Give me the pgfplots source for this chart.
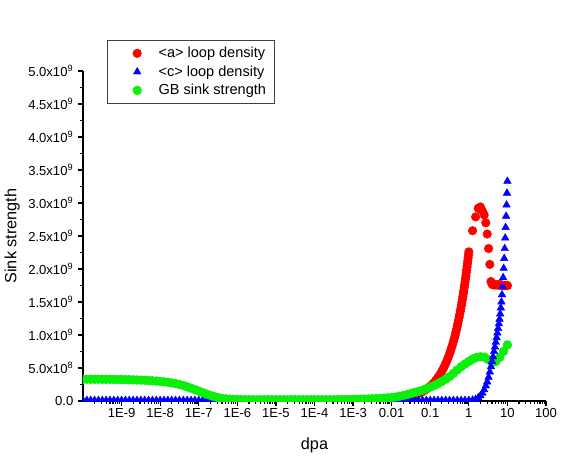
\documentclass[border=0pt]{standalone}
\usepackage{fontspec}
\setmainfont{Liberation Sans}
\usepackage{pgfplots}
\pgfplotsset{compat=1.18}
\usepackage{pgfplotstable}

\pgfplotstableread{
x y
0.01 0.023
0.02 0.045
0.03 0.068
0.04 0.090
0.05 0.113
0.06 0.136
0.07 0.158
0.08 0.181
0.09 0.203
0.10 0.226
0.12 0.271
0.14 0.316
0.16 0.362
0.18 0.407
0.20 0.452
0.22 0.497
0.24 0.542
0.26 0.588
0.28 0.633
0.30 0.678
0.32 0.723
0.34 0.768
0.36 0.814
0.38 0.859
0.40 0.904
0.42 0.949
0.44 0.994
0.46 1.040
0.48 1.085
0.50 1.130
0.52 1.175
0.54 1.220
0.56 1.266
0.58 1.311
0.60 1.356
0.62 1.401
0.64 1.446
0.66 1.492
0.68 1.537
0.70 1.582
0.72 1.627
0.74 1.672
0.76 1.718
0.78 1.763
0.80 1.808
0.82 1.853
0.84 1.898
0.86 1.944
0.88 1.989
0.90 2.034
0.92 2.079
0.94 2.124
0.96 2.170
0.98 2.215
1.00 2.260
1.25 2.58
1.50 2.79
1.75 2.92
2.00 2.94
2.25 2.88
2.50 2.82
2.75 2.70
3.00 2.53
3.25 2.31
3.50 2.07
3.75 1.81
4.00 1.77
4.25 1.76
4.50 1.76
4.75 1.76
5.00 1.76
5.25 1.76
5.50 1.76
5.75 1.76
6.00 1.76
6.25 1.76
6.50 1.76
6.75 1.76
7.00 1.76
7.25 1.75
7.50 1.75
7.75 1.75
8.00 1.75
8.25 1.75
8.50 1.75
8.75 1.75
9.00 1.75
9.25 1.75
9.50 1.75
9.75 1.75
10.0 1.75
}\redtab

\pgfplotstableread{
x y
1e-10 0.01
1.259e-10 0.01
1.585e-10 0.01
1.995e-10 0.01
2.512e-10 0.01
3.162e-10 0.01
3.981e-10 0.01
5.012e-10 0.01
6.310e-10 0.01
7.943e-10 0.01
1e-9 0.01
1.259e-9 0.01
1.585e-9 0.01
1.995e-9 0.01
2.512e-9 0.01
3.162e-9 0.01
3.981e-9 0.01
5.012e-9 0.01
6.310e-9 0.01
7.943e-9 0.01
1e-8 0.01
1.259e-8 0.01
1.585e-8 0.01
1.995e-8 0.01
2.512e-8 0.01
3.162e-8 0.01
3.981e-8 0.01
5.012e-8 0.01
6.310e-8 0.01
7.943e-8 0.01
1e-7 0.01
1.259e-7 0.01
1.585e-7 0.01
1.995e-7 0.01
2.512e-7 0.01
3.162e-7 0.01
3.981e-7 0.01
5.012e-7 0.01
6.310e-7 0.01
7.943e-7 0.01
1e-6 0.01
1.259e-6 0.01
1.585e-6 0.01
1.995e-6 0.01
2.512e-6 0.01
3.162e-6 0.01
3.981e-6 0.01
5.012e-6 0.01
6.310e-6 0.01
7.943e-6 0.01
1e-5 0.01
1.259e-5 0.01
1.585e-5 0.01
1.995e-5 0.01
2.512e-5 0.01
3.162e-5 0.01
3.981e-5 0.01
5.012e-5 0.01
6.310e-5 0.01
7.943e-5 0.01
1e-4 0.01
1.259e-4 0.01
1.585e-4 0.01
1.995e-4 0.01
2.512e-4 0.01
3.162e-4 0.01
3.981e-4 0.01
5.012e-4 0.01
6.310e-4 0.01
7.943e-4 0.01
1e-3 0.01
1.259e-3 0.01
1.585e-3 0.01
1.995e-3 0.01
2.512e-3 0.01
3.162e-3 0.01
3.981e-3 0.01
5.012e-3 0.01
6.310e-3 0.01
7.943e-3 0.01
1e-2 0.01
1.259e-2 0.01
1.585e-2 0.01
1.995e-2 0.01
2.512e-2 0.01
3.162e-2 0.01
3.981e-2 0.01
5.012e-2 0.01
6.310e-2 0.01
7.943e-2 0.01
0.1 0.01
0.1259 0.01
0.1585 0.01
0.1995 0.01
0.2512 0.01
0.3162 0.01
0.3981 0.01
0.5012 0.01
0.6310 0.01
0.7943 0.01
1.00 0.010
1.25 0.015
1.50 0.025
}\bluelowtab

\pgfplotstableread{
x y
1.75 0.050
2.00 0.080
2.25 0.120
2.50 0.170
2.75 0.230
3.00 0.290
3.25 0.360
3.50 0.440
3.75 0.520
4.00 0.600
4.25 0.670
4.50 0.750
4.75 0.820
5.00 0.890
5.25 0.960
5.50 1.030
5.75 1.100
6.00 1.170
6.25 1.240
6.50 1.320
6.75 1.410
7.00 1.500
7.25 1.610
7.50 1.730
7.75 1.870
8.00 2.010
8.25 2.160
8.50 2.310
8.75 2.470
9.00 2.630
9.25 2.800
9.50 2.970
9.75 3.150
10.0 3.330
}\bluehightab

\pgfplotstableread{
x y
1e-10 0.330
1.259e-10 0.330
1.585e-10 0.330
1.995e-10 0.330
2.512e-10 0.329
3.162e-10 0.329
3.981e-10 0.328
5.012e-10 0.328
6.310e-10 0.327
7.943e-10 0.326
1e-9 0.325
1.259e-9 0.324
1.585e-9 0.323
1.995e-9 0.321
2.512e-9 0.319
3.162e-9 0.317
3.981e-9 0.314
5.012e-9 0.311
6.310e-9 0.307
7.943e-9 0.302
1e-8 0.297
1.259e-8 0.291
1.585e-8 0.283
1.995e-8 0.274
2.512e-8 0.263
3.162e-8 0.250
3.981e-8 0.235
5.012e-8 0.215
6.310e-8 0.195
7.943e-8 0.173
1e-7 0.150
1.259e-7 0.127
1.585e-7 0.105
1.995e-7 0.085
2.512e-7 0.067
3.162e-7 0.052
3.981e-7 0.040
5.012e-7 0.032
6.310e-7 0.027
7.943e-7 0.024
1e-6 0.022
1.259e-6 0.021
1.585e-6 0.020
1.995e-6 0.020
2.512e-6 0.020
3.162e-6 0.020
3.981e-6 0.020
5.012e-6 0.020
6.310e-6 0.020
7.943e-6 0.020
1e-5 0.020
1.259e-5 0.020
1.585e-5 0.020
1.995e-5 0.020
2.512e-5 0.020
3.162e-5 0.020
3.981e-5 0.020
5.012e-5 0.020
6.310e-5 0.020
7.943e-5 0.020
1e-4 0.020
1.259e-4 0.020
1.585e-4 0.020
1.995e-4 0.020
2.512e-4 0.020
3.162e-4 0.020
3.981e-4 0.021
5.012e-4 0.021
6.310e-4 0.022
7.943e-4 0.023
1e-3 0.024
1.259e-3 0.025
1.585e-3 0.027
1.995e-3 0.029
2.512e-3 0.031
3.162e-3 0.033
3.981e-3 0.036
5.012e-3 0.039
6.310e-3 0.043
7.943e-3 0.047
1e-2 0.052
1.259e-2 0.060
1.585e-2 0.071
1.995e-2 0.084
2.512e-2 0.098
3.162e-2 0.115
3.981e-2 0.130
5.012e-2 0.146
6.310e-2 0.163
7.943e-2 0.185
0.1 0.210
0.1259 0.235
0.1585 0.263
0.1995 0.295
0.2512 0.330
0.3162 0.370
0.3981 0.420
0.5012 0.470
0.6310 0.520
0.7943 0.560
1.0 0.600
1.259 0.635
1.585 0.660
1.995 0.670
2.512 0.665
3.162 0.630
3.981 0.585
5.012 0.600
6.310 0.660
7.943 0.750
10.0 0.850
}\greentab

\definecolor{cred}{RGB}{255,0,0}
\definecolor{cblue}{RGB}{0,0,255}
\definecolor{cgreen}{RGB}{10,240,10}

\begin{document}
\begin{tikzpicture}
\useasboundingbox (-62.25pt,-53.25pt) rectangle (360.75pt,300.75pt);
\begin{axis}[
  at={(0,0)}, anchor=south west,
  scale only axis, width=347.25pt, height=247.5pt,
  xmode=log, xmin=1e-10, xmax=100,
  ymin=0, ymax=5,
  axis x line*=bottom, axis y line*=left,
  tick align=outside,
  major tick length=3.75pt, minor tick length=2.25pt,
  axis line style={line width=0.9pt, black},
  every tick/.style={line width=0.9pt, black},
  xtick={1e-9,1e-8,1e-7,1e-6,1e-5,1e-4,1e-3,0.01,0.1,1,10,100},
  xticklabels={1E-9,1E-8,1E-7,1E-6,1E-5,1E-4,1E-3,0.01,0.1,1,10,100},
  minor xtick={2e-10,3e-10,4e-10,5e-10,6e-10,7e-10,8e-10,9e-10,
    2e-9,3e-9,4e-9,5e-9,6e-9,7e-9,8e-9,9e-9,
    2e-8,3e-8,4e-8,5e-8,6e-8,7e-8,8e-8,9e-8,
    2e-7,3e-7,4e-7,5e-7,6e-7,7e-7,8e-7,9e-7,
    2e-6,3e-6,4e-6,5e-6,6e-6,7e-6,8e-6,9e-6,
    2e-5,3e-5,4e-5,5e-5,6e-5,7e-5,8e-5,9e-5,
    2e-4,3e-4,4e-4,5e-4,6e-4,7e-4,8e-4,9e-4,
    2e-3,3e-3,4e-3,5e-3,6e-3,7e-3,8e-3,9e-3,
    0.02,0.03,0.04,0.05,0.06,0.07,0.08,0.09,
    0.2,0.3,0.4,0.5,0.6,0.7,0.8,0.9,
    2,3,4,5,6,7,8,9,
    20,30,40,50,60,70,80,90},
  ytick={0,0.5,1,1.5,2,2.5,3,3.5,4,4.5,5},
  yticklabels={0.0,5.0x10\textsuperscript{8},1.0x10\textsuperscript{9},1.5x10\textsuperscript{9},2.0x10\textsuperscript{9},2.5x10\textsuperscript{9},3.0x10\textsuperscript{9},3.5x10\textsuperscript{9},4.0x10\textsuperscript{9},4.5x10\textsuperscript{9},5.0x10\textsuperscript{9}},
  minor ytick={0.25,0.75,1.25,1.75,2.25,2.75,3.25,3.75,4.25,4.75},
  tick label style={font=\fontsize{9.8}{11}\selectfont, black},
  xticklabel style={yshift=1.5pt},
  xlabel={dpa}, ylabel={Sink strength},
  label style={font=\fontsize{12.2}{14}\selectfont},
  xlabel style={at={(axis description cs:0.5,-0.133)}, anchor=center},
  ylabel style={at={(axis description cs:-0.153,0.5)}, anchor=center},
  clip marker paths=true,
  legend style={at={(axis description cs:0.052,1.094)}, anchor=north west,
    draw=black!75, line width=0.6pt, font=\fontsize{10.9}{12}\selectfont,
    inner xsep=4pt, inner ysep=3pt, row sep=0.5pt, cells={anchor=west}},
  legend image code/.code={\path (0pt,0pt) (31.7pt,0pt); \draw[#1] plot coordinates {(18pt,0pt)};},
]
\addplot[only marks, color=cred, mark=*, mark size=3.2pt, mark options={line width=0.4pt}] table[x=x,y=y] {\redtab};
\addlegendentry{<a> loop density}
\addplot[only marks, color=cblue, mark=triangle*, mark size=3.3pt, mark options={line width=0.3pt}] table[x=x,y=y] {\bluelowtab};
\addlegendentry{<c> loop density}
\addplot[only marks, color=cgreen, mark=*, mark size=3.3pt, mark options={line width=0.4pt}, forget plot] table[x=x,y=y] {\greentab};
\addplot[only marks, color=cblue, mark=triangle*, mark size=3.3pt, mark options={line width=0.3pt}, forget plot] table[x=x,y=y] {\bluehightab};
\addlegendimage{only marks, color=cgreen, mark=*, mark size=3.3pt, mark options={line width=0.4pt}}
\addlegendentry{GB sink strength}
\end{axis}
\end{tikzpicture}
\end{document}
